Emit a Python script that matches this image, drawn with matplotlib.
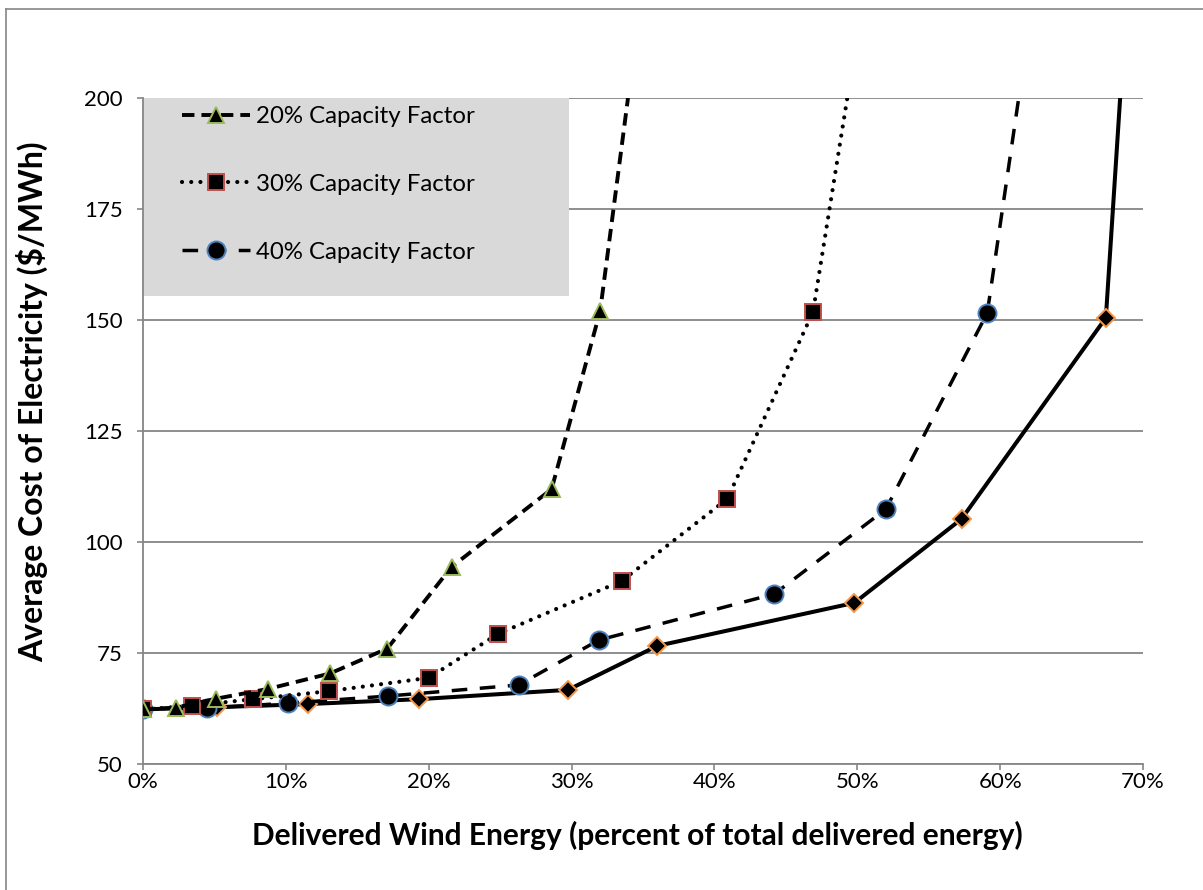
import matplotlib
matplotlib.use("Agg")
import matplotlib.pyplot as plt
from matplotlib.patches import Rectangle
from matplotlib.lines import Line2D
from matplotlib.ticker import FuncFormatter

# ---- data ----
x_cf20 = [0.0, 2.3, 5.1, 8.75, 13.1, 17.1, 21.6, 28.6, 32.0, 33.95]
y_cf20 = [62.3, 62.7, 64.7, 66.9, 70.4, 76.0, 94.4, 111.9, 152.0, 200.0]

x_cf30 = [0.0, 3.4, 7.7, 13.0, 20.0, 24.85, 33.5, 40.9, 46.9, 49.3]
y_cf30 = [62.3, 63.1, 64.6, 66.4, 69.4, 79.3, 91.2, 109.7, 151.8, 200.0]

x_cf40 = [0.0, 4.5, 10.15, 17.15, 26.3, 31.9, 44.2, 52.0, 59.1, 61.3]
y_cf40 = [62.3, 62.6, 63.7, 65.3, 67.8, 77.9, 88.3, 107.4, 151.6, 200.0]

x_base = [0.0, 5.2, 11.55, 19.3, 29.75, 36.0, 49.8, 57.3, 67.4, 68.4]
y_base = [62.3, 62.8, 63.5, 64.6, 66.7, 76.6, 86.3, 105.2, 150.5, 200.0]

labels = ["20% Capacity Factor", "30% Capacity Factor", "40% Capacity Factor"]
x_ticks = [0, 10, 20, 30, 40, 50, 60, 70]
y_ticks = [50, 75, 100, 125, 150, 175, 200]

FONT = "Lato"
plt.rcParams["font.family"] = [FONT, "DejaVu Sans"]

fig = plt.figure(figsize=(12.03, 8.90), dpi=100)
ax = fig.add_axes([143/1203, (890-764)/890, 1000/1203, 666/890])

grey = "#868686"
marks = list(range(len(x_cf20) - 1))  # last point is where the line leaves the plot

ax.plot(x_base, y_base, color="black", lw=2.9, marker="D", ms=9,
        mfc="black", mec="#F79646", mew=1.4, markevery=marks, zorder=4,
        solid_joinstyle="miter")
ax.plot(x_cf40, y_cf40, color="black", lw=2.5, dashes=(4.5, 3.6), marker="o",
        ms=13, mfc="black", mec="#4F81BD", mew=1.4, markevery=marks, zorder=5)
ax.plot(x_cf30, y_cf30, color="black", lw=3.0, dashes=(0.01, 2.2),
        dash_capstyle="round", marker="s", ms=12, mfc="black",
        mec="#C0504D", mew=1.4, markevery=marks, zorder=6)
ax.plot(x_cf20, y_cf20, color="black", lw=2.8, dashes=(3.2, 1.8), marker="^",
        ms=11.5, mfc="black", mec="#9BBB59", mew=1.4, markevery=marks, zorder=7)

ax.set_xlim(0, 70)
ax.set_ylim(50, 200)
ax.set_xticks(x_ticks)
ax.set_yticks(y_ticks)
ax.xaxis.set_major_formatter(FuncFormatter(lambda v, p: f"{v:.0f}%"))

ax.grid(axis="y", color=grey, lw=1.3, zorder=0.5)
ax.set_axisbelow(True)
for s in ("top", "right"):
    ax.spines[s].set_visible(False)
for s in ("left", "bottom"):
    ax.spines[s].set_color(grey)
    ax.spines[s].set_linewidth(1.3)
ax.tick_params(axis="both", direction="out", length=4.5, width=1.2, color=grey,
               labelsize=16, labelcolor="black")
ax.tick_params(axis="y", pad=10)
ax.tick_params(axis="x", pad=1)

ax.set_xlabel("Delivered Wind Energy (percent of total delivered energy)",
              fontsize=21.5, fontweight="bold", va="center")
ax.set_ylabel("Average Cost of Electricity ($/MWh)", fontsize=23,
              fontweight="bold", va="center")
ax.xaxis.set_label_coords(0.494, -0.108)
ax.yaxis.set_label_coords(-0.111, 0.544)

# legend background box
ax.add_patch(Rectangle((0, (764-296)/666), 426/1000, 198/666,
                       transform=ax.transAxes, facecolor="#D9D9D9",
                       edgecolor="none", zorder=1))

handles = [
    Line2D([], [], color="black", lw=2.8, dashes=(3.2, 1.8), marker="^", ms=11.5,
           mfc="black", mec="#9BBB59", mew=1.4),
    Line2D([], [], color="black", lw=3.0, dashes=(0.01, 2.2), dash_capstyle="round",
           marker="s", ms=12, mfc="black", mec="#C0504D", mew=1.4),
    Line2D([], [], color="black", lw=2.5, dashes=(4.5, 3.6), marker="o", ms=13,
           mfc="black", mec="#4F81BD", mew=1.4),
]
leg = ax.legend(handles, labels, loc="upper left",
                bbox_to_anchor=(0.039, 1.0 - 8/666), frameon=False,
                fontsize=17.3, handlelength=2.85, handletextpad=0.25,
                labelspacing=1.95, borderaxespad=0, borderpad=0)
leg.set_zorder(8)

# outer chart border (top and left edges visible in the reference)
fig.add_artist(Line2D([6/1203, 6/1203], [0, 1 - 9/890], transform=fig.transFigure,
                      color=grey, lw=1.2))
fig.add_artist(Line2D([6/1203, 1], [1 - 9/890, 1 - 9/890], transform=fig.transFigure,
                      color=grey, lw=1.2))

fig.savefig("out.png", dpi=100, facecolor="white")
